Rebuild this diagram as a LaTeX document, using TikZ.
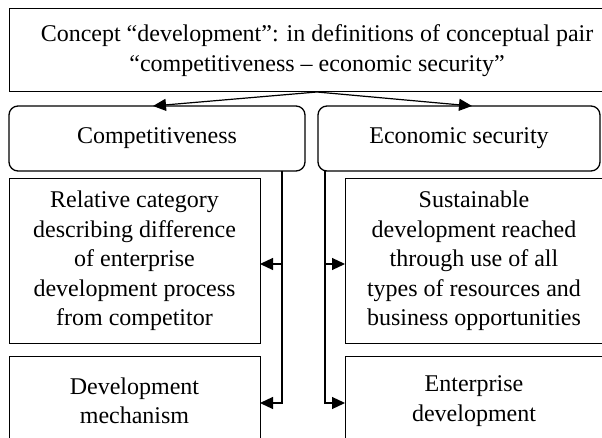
\documentclass[tikz,border=0pt]{standalone}
\usepackage{fontspec}
\setmainfont{Liberation Serif}
\usetikzlibrary{arrows.meta}

\tikzset{
box/.style={
  draw,
  rectangle,
  line width=1pt,
  inner sep=2pt,
  outer sep=0pt,
  align=center,
  anchor=north west,
  font=\fontsize{24}{29.5}\selectfont,
},
topbox/.style={box, minimum width=616pt, minimum height=83pt},
catbox/.style={box, rounded corners=9pt, line width=1.3pt, minimum height=65pt},
defbox/.style={box, minimum height=164pt},
lowbox/.style={box, minimum height=90pt},
link/.style={line width=1.2pt, -{Triangle[length=13pt,width=12pt]}},
bus/.style={line width=1.2pt},
}

\begin{document}
\begin{tikzpicture}[x=1pt,y=1pt]
\useasboundingbox (0,0) rectangle (602,-438);
\clip (0,0) rectangle (602,-438);
                  % head
\node[topbox] (concept) at (9,-9)
  {Concept ``development'': in definitions of conceptual pair\\
   ``competitiveness -- economic security''};
                  % categories
\node[catbox, minimum width=296pt] (comp) at (9,-106) {Competitiveness};
\node[catbox, minimum width=282pt] (sec) at (318,-106) {Economic security};
                  % definitions
\node[defbox, minimum width=251pt] (rel) at (9,-179)
  {Relative category\\ describing difference\\ of enterprise\\
   development process\\ from competitor};
\node[defbox, minimum width=258pt] (sus) at (345,-179)
  {Sustainable\\ development reached\\ through use of all\\
   types of resources and\\ business opportunities};
\node[lowbox, minimum width=251pt] (mech) at (9,-356) {Development\\ mechanism};
\node[lowbox, minimum width=258pt] (ent) at (345,-356) {Enterprise\\ development};
                  % head to categories
\draw[link] (concept.south) -- ([xshift=-4pt]comp.north);
\draw[link] (concept.south) -- ([xshift=13pt]sec.north);
                  % left bus
\coordinate (l-0) at (282,-171);
\coordinate (l-1) at (282,-264);
\coordinate (l-2) at (282,-403);
\draw[bus] (l-0) -- (l-1);
\draw[link] (l-1) -- (l-1 -| rel.east);
\draw[link] (l-1) |- (l-2 -| mech.east);
                  % right bus
\coordinate (r-0) at (325,-171);
\coordinate (r-1) at (325,-264);
\coordinate (r-2) at (325,-403);
\draw[bus] (r-0) -- (r-1);
\draw[link] (r-1) -- (r-1 -| sus.west);
\draw[link] (r-1) |- (r-2 -| ent.west);
\end{tikzpicture}
\end{document}
